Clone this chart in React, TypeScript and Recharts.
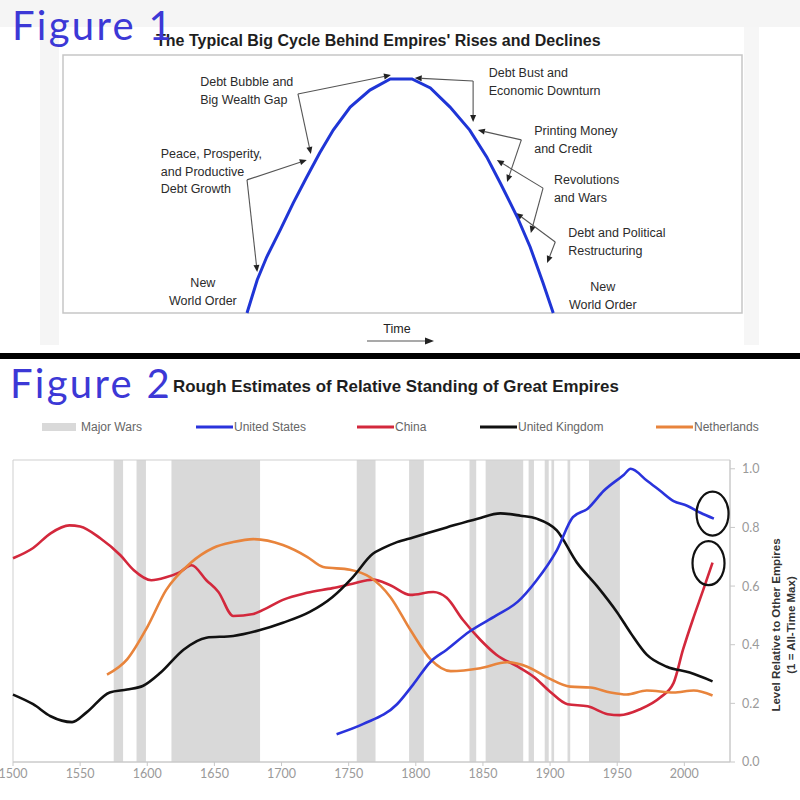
import React from "react";
import {
  LineChart,
  Line,
  XAxis,
  YAxis,
  ReferenceArea,
  ReferenceLine,
  ReferenceDot,
} from "recharts";

// ---- Figure 1: the stylised big cycle (time and level on a 0-100 scale) ----
const cycleTime = [27.1, 28.6, 30.0, 32.0, 33.9, 35.9, 37.8, 39.8, 42.3, 45.2, 48.2, 51.4, 54.1, 57.0, 59.9, 62.4, 64.4, 66.9, 68.8, 70.7, 72.2];
const cycleLevel = [0, 12.8, 21.7, 32.2, 42.6, 52.7, 62.0, 70.9, 79.8, 86.4, 90.7, 90.7, 87.2, 79.8, 70.9, 60.5, 50.4, 37.2, 25.6, 11.6, 0];

const phaseText = [
  ["Debt Bubble and", "Big Wealth Gap"],
  ["Peace, Prosperity,", "and Productive", "Debt Growth"],
  ["New", "World Order"],
  ["Debt Bust and", "Economic Downturn"],
  ["Printing Money", "and Credit"],
  ["Revolutions", "and Wars"],
  ["Debt and Political", "Restructuring"],
  ["New", "World Order"],
];

// where each phase caption sits and which points of the curve its arrows reach
const callouts = [
  { text: 0, at: [20.2, 89.5], anchor: "start", from: [34.6, 84.9], to: [[48.3, 92.2], [36.5, 61.6]] },
  { text: 1, at: [14.4, 61.6], anchor: "start", from: [27.1, 51.6], to: [[35.9, 59.3], [28.6, 15.9]] },
  { text: 2, at: [20.6, 11.6], anchor: "middle" },
  { text: 3, at: [62.7, 93.0], anchor: "start", from: [60.4, 89.9], to: [[51.8, 91.1], [60.4, 74.0]] },
  { text: 4, at: [69.4, 70.5], anchor: "start", from: [67.5, 67.1], to: [[61.1, 70.9], [65.4, 50.8]] },
  { text: 5, at: [72.3, 51.6], anchor: "start", from: [70.7, 48.4], to: [[63.9, 59.3], [68.9, 31.0]] },
  { text: 6, at: [74.4, 31.0], anchor: "start", from: [72.5, 27.5], to: [[66.7, 38.8], [71.3, 19.4]] },
  { text: 7, at: [79.5, 10.1], anchor: "middle" },
];

// ---- Figure 2: relative standing of empires ----
const chinaYears = [1500, 1515, 1528, 1542, 1550, 1565, 1580, 1590, 1603, 1614, 1624, 1633, 1644, 1653, 1664, 1679, 1689, 1701, 1719, 1738, 1753, 1768, 1781, 1796, 1813, 1823, 1835, 1848, 1860, 1876, 1888, 1900, 1913, 1928, 1943, 1952, 1967, 1982, 1992, 1999, 2007, 2014, 2021];
const chinaLevel = [0.695, 0.73, 0.78, 0.807, 0.803, 0.763, 0.705, 0.654, 0.62, 0.63, 0.647, 0.671, 0.62, 0.58, 0.498, 0.505, 0.525, 0.553, 0.577, 0.593, 0.608, 0.622, 0.603, 0.57, 0.58, 0.56, 0.485, 0.417, 0.366, 0.325, 0.29, 0.24, 0.197, 0.19, 0.163, 0.16, 0.18, 0.22, 0.27, 0.383, 0.495, 0.586, 0.68];

const usYears = [1741, 1761, 1786, 1798, 1811, 1823, 1840, 1860, 1876, 1890, 1905, 1917, 1928, 1940, 1955, 1960, 1972, 1982, 1992, 2002, 2012, 2022];
const usLevel = [0.095, 0.13, 0.197, 0.264, 0.342, 0.383, 0.445, 0.5, 0.547, 0.62, 0.722, 0.835, 0.864, 0.925, 0.98, 1.0, 0.96, 0.925, 0.89, 0.874, 0.85, 0.83];

const ukYears = [1500, 1515, 1528, 1544, 1555, 1572, 1585, 1597, 1610, 1627, 1644, 1664, 1684, 1701, 1721, 1738, 1753, 1768, 1776, 1786, 1798, 1823, 1846, 1863, 1878, 1890, 1905, 1920, 1935, 1950, 1960, 1972, 1987, 2004, 2021];
const ukLevel = [0.23, 0.197, 0.156, 0.136, 0.17, 0.237, 0.247, 0.26, 0.305, 0.383, 0.424, 0.43, 0.45, 0.475, 0.512, 0.563, 0.63, 0.71, 0.73, 0.75, 0.766, 0.8, 0.83, 0.848, 0.84, 0.83, 0.79, 0.68, 0.6, 0.51, 0.44, 0.366, 0.325, 0.305, 0.275];

const dutchYears = [1570, 1585, 1600, 1614, 1632, 1649, 1664, 1679, 1701, 1719, 1731, 1751, 1766, 1781, 1796, 1811, 1826, 1848, 1868, 1883, 1898, 1915, 1930, 1945, 1957, 1972, 1992, 2007, 2021];
const dutchLevel = [0.298, 0.35, 0.46, 0.586, 0.678, 0.73, 0.75, 0.76, 0.74, 0.7, 0.665, 0.656, 0.63, 0.563, 0.45, 0.35, 0.31, 0.32, 0.34, 0.325, 0.288, 0.257, 0.254, 0.237, 0.23, 0.244, 0.237, 0.244, 0.227];

const warStart = [1575, 1592, 1618, 1756, 1795, 1840, 1852, 1884, 1896, 1901, 1913, 1929];
const warEnd = [1582, 1599, 1684, 1770, 1806, 1845, 1880, 1888, 1899, 1903, 1915, 1952];

const yearTicks = [1500, 1550, 1600, 1650, 1700, 1750, 1800, 1850, 1900, 1950, 2000];
const levelTicks = [0, 0.2, 0.4, 0.6, 0.8, 1.0];

const highlightYears = [2021, 2018];
const highlightLevels = [0.847, 0.678];

const toRows = (years: number[], levels: number[]) =>
  years.map((year, i) => ({ year, level: levels[i] }));

const cycleRows = cycleTime.map((t, i) => ({ t, level: cycleLevel[i] }));

const series = [
  { name: "China", rows: toRows(chinaYears, chinaLevel), color: "#d3283c" },
  { name: "Netherlands", rows: toRows(dutchYears, dutchLevel), color: "#e8843c" },
  { name: "United Kingdom", rows: toRows(ukYears, ukLevel), color: "#111111" },
  { name: "United States", rows: toRows(usYears, usLevel), color: "#2a33dc" },
];

const legendItems = [
  { label: "United States", color: "#2a33dc", x: 196 },
  { label: "China", color: "#d3283c", x: 357 },
  { label: "United Kingdom", color: "#111111", x: 480 },
  { label: "Netherlands", color: "#e8843c", x: 656 },
];

const NOTE_FONT = "'Liberation Sans', Arial, sans-serif";
const FIG_FONT = "Lato, 'Noto Sans', sans-serif";
const PURPLE = "#3c38d6";

function Arrow(props: any) {
  const { x1, y1, x2, y2 } = props;
  const a = Math.atan2(y2 - y1, x2 - x1);
  const len = 7;
  const half = 3;
  const bx = x2 - len * Math.cos(a);
  const by = y2 - len * Math.sin(a);
  const p1 = `${bx + half * Math.sin(a)},${by - half * Math.cos(a)}`;
  const p2 = `${bx - half * Math.sin(a)},${by + half * Math.cos(a)}`;
  return (
    <g>
      <line x1={x1} y1={y1} x2={bx} y2={by} stroke="#555" strokeWidth={1.1} />
      <polygon points={`${x2},${y2} ${p1} ${p2}`} fill="#222" />
    </g>
  );
}

function caption(lines: string[], anchor: string) {
  return (props: any) => (
    <text
      x={props.cx}
      y={props.cy}
      textAnchor={anchor}
      fontFamily={NOTE_FONT}
      fontSize={12.5}
      fill="#2b2b2b"
    >
      {lines.map((l, i) => (
        <tspan key={i} x={props.cx} dy={i === 0 ? "0.35em" : 17.5}>
          {l}
        </tspan>
      ))}
    </text>
  );
}

function Ring(props: any) {
  return (
    <ellipse cx={props.cx} cy={props.cy} rx={16} ry={22} fill="none" stroke="#111" strokeWidth={2.2} />
  );
}

function CycleChart() {
  return (
    <LineChart width={800} height={350} margin={{ top: 55, right: 58, bottom: 37, left: 63 }}>
      <XAxis type="number" dataKey="t" domain={[0, 100]} hide />
      <YAxis type="number" domain={[0, 100]} hide />
      <ReferenceArea x1={0} x2={100} y1={0} y2={100} fill="#ffffff" fillOpacity={1} stroke="#c6c6c6" strokeWidth={1.5} />
      {callouts.map((c, i) =>
        (c.to || []).map((tip, j) => (
          <ReferenceLine
            key={`a${i}-${j}`}
            segment={[
              { x: c.from![0], y: c.from![1] },
              { x: tip[0], y: tip[1] },
            ]}
            shape={Arrow}
          />
        ))
      )}
      {callouts.map((c, i) => (
        <ReferenceDot
          key={`c${i}`}
          x={c.at[0]}
          y={c.at[1]}
          r={1}
          shape={caption(phaseText[c.text], c.anchor)}
        />
      ))}
      <Line
        data={cycleRows}
        dataKey="level"
        type="linear"
        stroke="#1f35d6"
        strokeWidth={3}
        dot={false}
        isAnimationActive={false}
      />
    </LineChart>
  );
}

function EmpiresChart() {
  return (
    <LineChart width={800} height={355} margin={{ top: 15, right: 0, bottom: 8, left: 13 }}>
      <XAxis
        type="number"
        dataKey="year"
        domain={[1500, 2034]}
        ticks={yearTicks}
        height={30}
        tick={{ fill: "#9a9a9a", fontSize: 12.5, fontFamily: "Lato, sans-serif" }}
        tickLine={{ stroke: "#c8c8c8" }}
        axisLine={{ stroke: "#c8c8c8" }}
        tickSize={4}
        tickMargin={3}
      />
      <YAxis
        type="number"
        orientation="right"
        domain={[0, 1.03]}
        ticks={levelTicks}
        tickFormatter={(v: number) => v.toFixed(1)}
        width={70}
        tick={{ fill: "#9a9a9a", fontSize: 12.5, fontFamily: "Lato, sans-serif" }}
        tickLine={{ stroke: "#c8c8c8" }}
        axisLine={{ stroke: "#c8c8c8" }}
        tickSize={5}
        tickMargin={7}
      />
      {warStart.map((s, i) => (
        <ReferenceArea key={`w${i}`} x1={s} x2={warEnd[i]} y1={0} y2={1.03} fill="#d9d9d9" fillOpacity={1} stroke="none" />
      ))}
      <ReferenceArea x1={1500} x2={2034} y1={0} y2={1.03} fill="none" stroke="#cfcfcf" strokeWidth={1} />
      {series.map((s) => (
        <Line
          key={s.name}
          data={s.rows}
          dataKey="level"
          name={s.name}
          type="monotone"
          stroke={s.color}
          strokeWidth={2.6}
          dot={false}
          isAnimationActive={false}
        />
      ))}
      {highlightYears.map((y, i) => (
        <ReferenceDot key={`h${i}`} x={y} y={highlightLevels[i]} r={1} shape={Ring} />
      ))}
    </LineChart>
  );
}

export default function App() {
  return (
    <div style={{ position: "relative", width: 800, height: 800, background: "#fff", overflow: "hidden" }}>
      <style>{"body{margin:0}"}</style>
      <svg width={800} height={800} style={{ position: "absolute", left: 0, top: 0 }}>
        <rect x={0} y={0} width={800} height={800} fill="#fff" />
        <rect x={0} y={0} width={800} height={27} fill="#f5f5f5" />
        <rect x={40} y={0} width={19} height={345} fill="#f5f5f5" />
        <rect x={744} y={27} width={15} height={318} fill="#f6f6f6" />
        <rect x={0} y={353} width={800} height={6} fill="#000" />
        <text x={156} y={46} fontFamily={NOTE_FONT} fontWeight={700} fontSize={16} fill="#1e1e1e">
          The Typical Big Cycle Behind Empires' Rises and Declines
        </text>
        <text x={12} y={40} fontFamily={FIG_FONT} fontSize={40} letterSpacing={2.3} fill={PURPLE}>
          Figure 1
        </text>
        <text x={397} y={332.5} textAnchor="middle" fontFamily={NOTE_FONT} fontSize={12.5} fill="#222">
          Time
        </text>
        <line x1={367} y1={341} x2={426} y2={341} stroke="#555" strokeWidth={1.2} />
        <polygon points="434,341 425,337.5 425,344.5" fill="#222" />

        <text x={10} y={398} fontFamily={FIG_FONT} fontSize={40} letterSpacing={2.3} fill={PURPLE}>
          Figure 2
        </text>
        <text x={173} y={392} fontFamily={NOTE_FONT} fontWeight={700} fontSize={16.9} fill="#1e1e1e">
          Rough Estimates of Relative Standing of Great Empires
        </text>
        <rect x={42} y={423} width={34} height={8} fill="#d9d9d9" />
        <text x={81} y={431} fontFamily={NOTE_FONT} fontSize={12} fill="#666">
          Major Wars
        </text>
        {legendItems.map((it) => (
          <g key={it.label}>
            <line x1={it.x} y1={427} x2={it.x + 37} y2={427} stroke={it.color} strokeWidth={3} />
            <text x={it.x + 38} y={431} fontFamily={NOTE_FONT} fontSize={12} fill="#666">
              {it.label}
            </text>
          </g>
        ))}
        <text transform="translate(779.5,625) rotate(-90)" textAnchor="middle" fontFamily={NOTE_FONT} fontWeight={700} fontSize={11.5} fill="#333">
          Level Relative to Other Empires
        </text>
        <text transform="translate(794.5,625) rotate(-90)" textAnchor="middle" fontFamily={NOTE_FONT} fontWeight={700} fontSize={11.5} fill="#333">
          (1 = All-Time Max)
        </text>
      </svg>
      <div style={{ position: "absolute", left: 0, top: 0 }}>
        <CycleChart />
      </div>
      <div style={{ position: "absolute", left: 0, top: 445 }}>
        <EmpiresChart />
      </div>
    </div>
  );
}
